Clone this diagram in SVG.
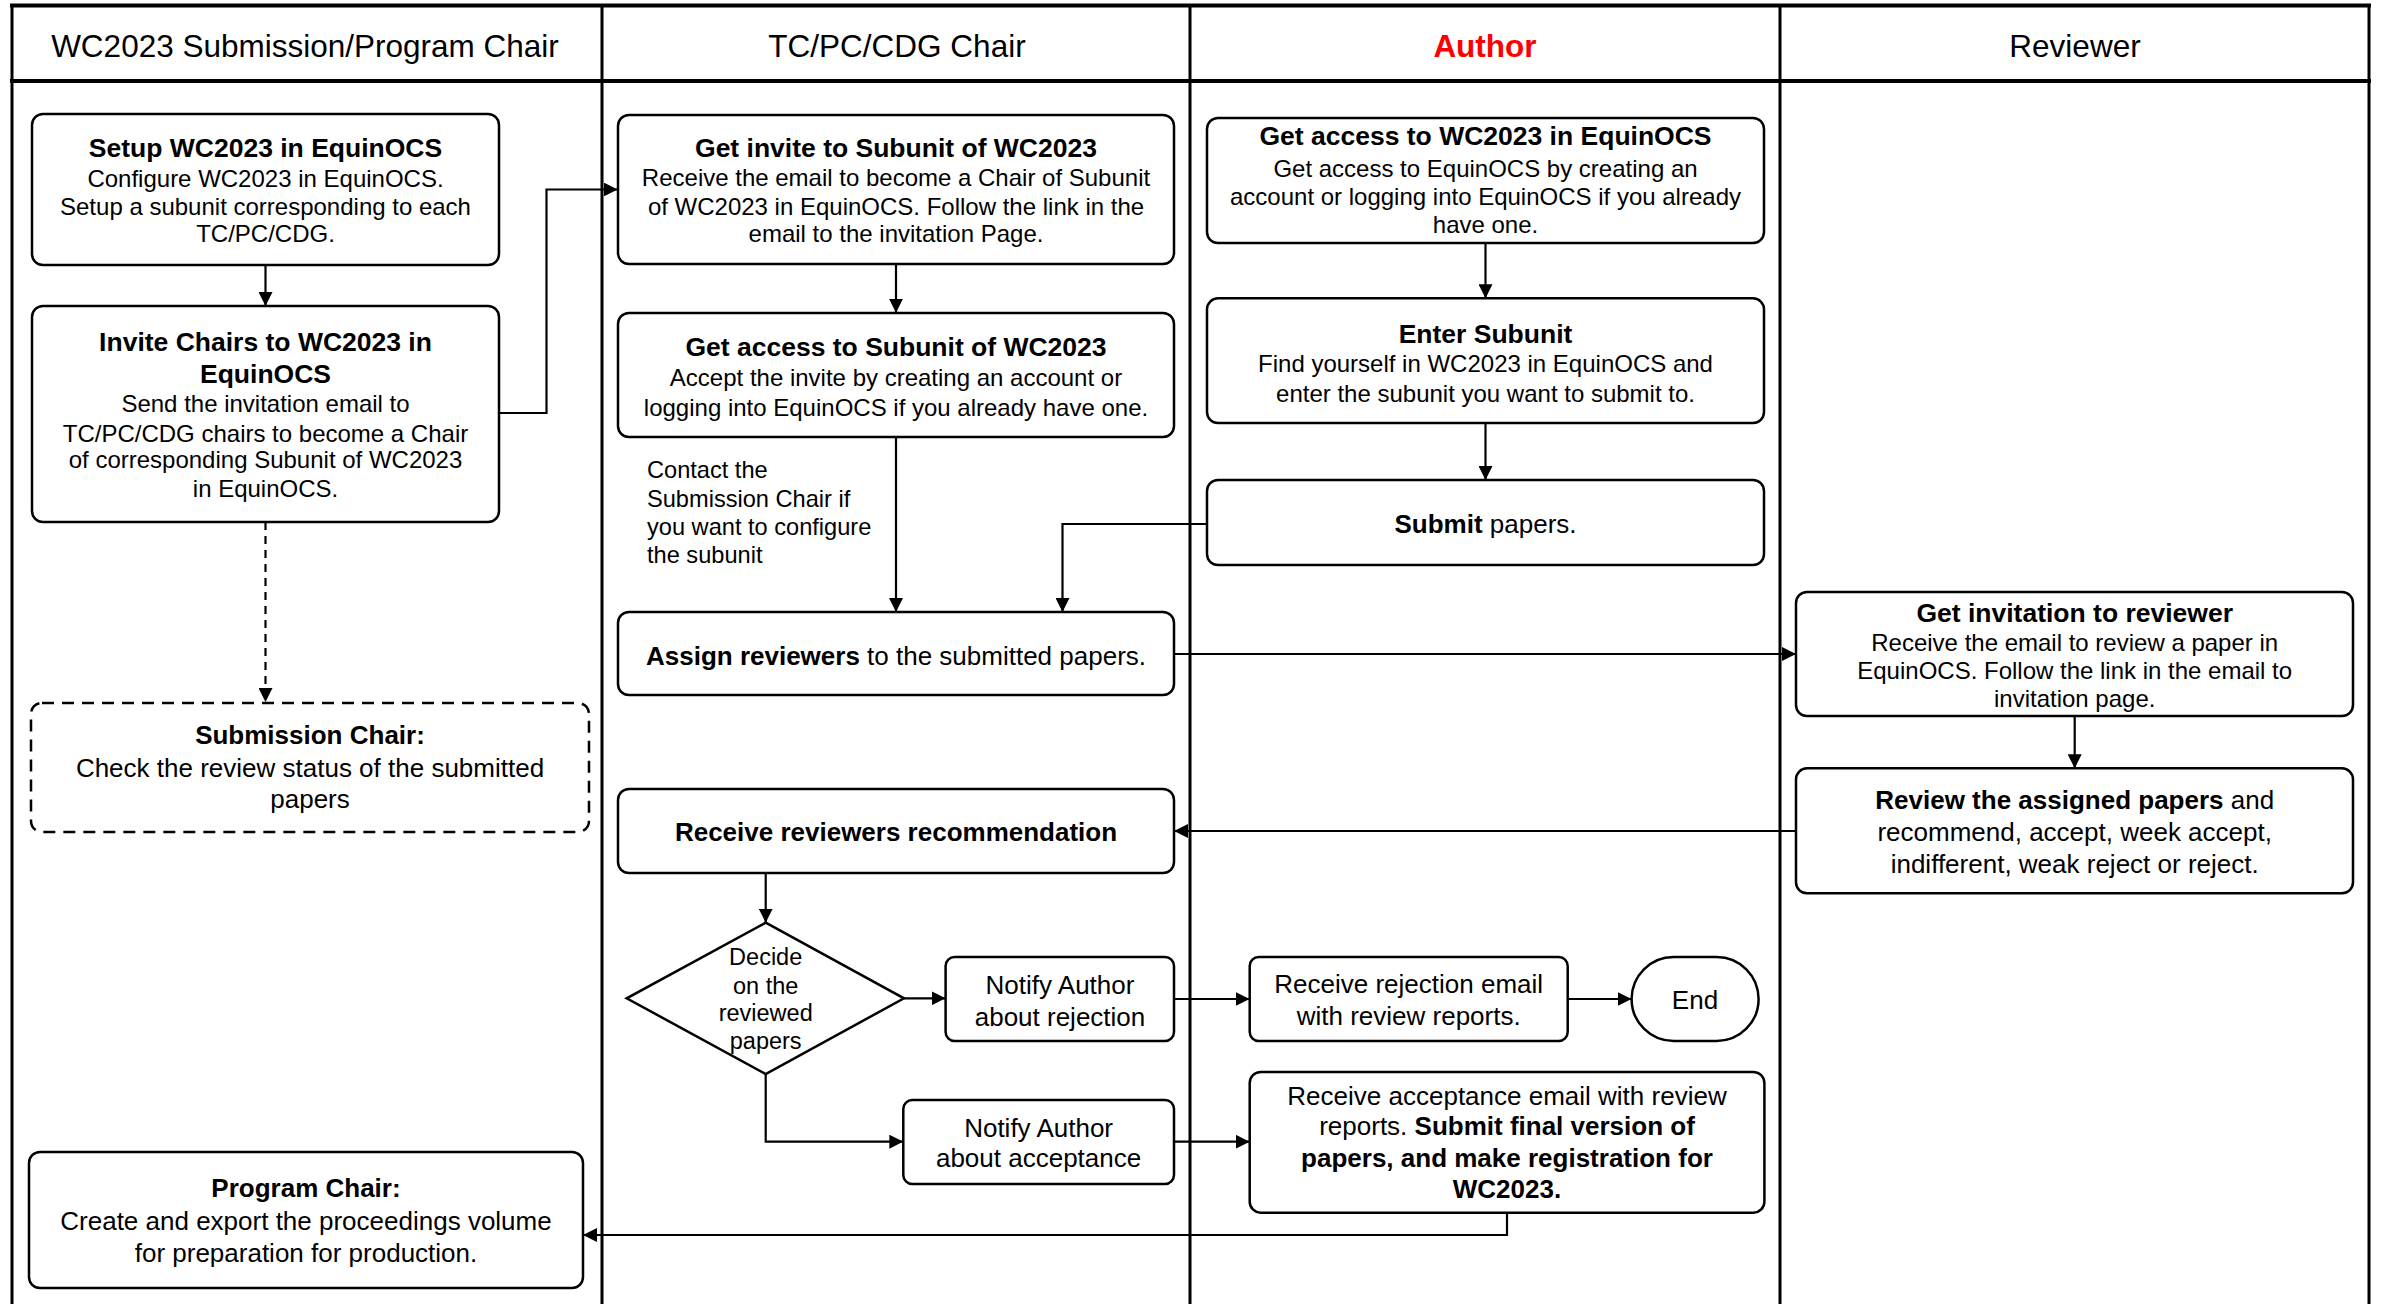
<svg xmlns="http://www.w3.org/2000/svg" width="2384" height="1304" viewBox="0 0 2384 1304">
<style>
text{font-family:"Liberation Sans",Arial,sans-serif;fill:#000}
.h{font-size:31.5px;text-anchor:middle}
.t{font-size:26.5px;font-weight:bold;text-anchor:middle}
.b{font-size:24px;text-anchor:middle}
.m{font-size:26px;text-anchor:middle}
.bd{font-weight:bold}
.box{fill:#fff;stroke:#000;stroke-width:2.5}
.dash{fill:#fff;stroke:#000;stroke-width:2.5;stroke-dasharray:12 8}
.lane{stroke:#000;stroke-width:3;fill:none}
.edge{fill:none;stroke:#000;stroke-width:2.2}
.n{font-size:23.6px}
.d{font-size:23.5px;text-anchor:middle}
</style>
<defs>
<marker id="ah" markerUnits="userSpaceOnUse" markerWidth="14" markerHeight="14" refX="14" refY="7" orient="auto" viewBox="0 0 14 14">
<path d="M0,0 L14,7 L0,14 z" fill="#000"/>
</marker>
</defs>
<rect width="2384" height="1304" fill="#fff"/>
<g id="lanes">
<line class="lane" x1="12" y1="4" x2="12" y2="1304"/>
<line class="lane" x1="602" y1="4" x2="602" y2="1304"/>
<line class="lane" x1="1190" y1="4" x2="1190" y2="1304"/>
<line class="lane" x1="1780" y1="4" x2="1780" y2="1304"/>
<line class="lane" x1="2369" y1="4" x2="2369" y2="1304"/>
<line class="lane" x1="10" y1="5.5" x2="2371" y2="5.5" style="stroke-width:4"/>
<line class="lane" x1="10" y1="81" x2="2371" y2="81" style="stroke-width:4"/>
<text class="h" x="305" y="57">WC2023 Submission/Program Chair</text>
<text class="h" x="897" y="57">TC/PC/CDG Chair</text>
<text class="h" x="1485" y="57" style="fill:#ff0000;font-weight:bold">Author</text>
<text class="h" x="2075" y="57">Reviewer</text>
</g>
<g id="connectors">
<path class="edge" d="M265.5,265 V306" marker-end="url(#ah)"/>
<path class="edge" d="M499,413 H546.5 V189.5 H617.7" marker-end="url(#ah)"/>
<path class="edge" d="M265.5,522 V702" style="stroke-dasharray:8 6" marker-end="url(#ah)"/>
<path class="edge" d="M896,264 V312.7" marker-end="url(#ah)"/>
<path class="edge" d="M896,437 V612" marker-end="url(#ah)"/>
<path class="edge" d="M1207,524 H1062.5 V612" marker-end="url(#ah)"/>
<path class="edge" d="M1485.5,243 V298.3" marker-end="url(#ah)"/>
<path class="edge" d="M1485.5,423 V480" marker-end="url(#ah)"/>
<path class="edge" d="M1174,654 H1796" marker-end="url(#ah)"/>
<path class="edge" d="M2074.7,716 V768.3" marker-end="url(#ah)"/>
<path class="edge" d="M1796,831 H1174" marker-end="url(#ah)"/>
<path class="edge" d="M765.7,873 V922.7" marker-end="url(#ah)"/>
<path class="edge" d="M904,998.3 H945.6" marker-end="url(#ah)"/>
<path class="edge" d="M765.7,1074 V1141.7 H903.3" marker-end="url(#ah)"/>
<path class="edge" d="M1174,999 H1249.7" marker-end="url(#ah)"/>
<path class="edge" d="M1174,1141.7 H1249.7" marker-end="url(#ah)"/>
<path class="edge" d="M1567.7,999 H1631.6" marker-end="url(#ah)"/>
<path class="edge" d="M1507,1212.7 V1235 H583" marker-end="url(#ah)"/>
</g>
<g id="setup">
<rect class="box" x="32" y="114" width="467" height="151" rx="11"/>
<text class="t" x="265.5" y="157">Setup WC2023 in EquinOCS</text>
<text class="b" x="265.5" y="187">Configure WC2023 in EquinOCS.</text>
<text class="b" x="265.5" y="215">Setup a subunit corresponding to each</text>
<text class="b" x="265.5" y="242">TC/PC/CDG.</text>
</g>
<g id="invite-chairs">
<rect class="box" x="32" y="306" width="467" height="216" rx="11"/>
<text class="t" x="265.5" y="351">Invite Chairs to WC2023 in</text>
<text class="t" x="265.5" y="383">EquinOCS</text>
<text class="b" x="265.5" y="412">Send the invitation email to</text>
<text class="b" x="265.5" y="442">TC/PC/CDG chairs to become a Chair</text>
<text class="b" x="265.5" y="468">of corresponding Subunit of WC2023</text>
<text class="b" x="265.5" y="497">in EquinOCS.</text>
</g>
<g id="submission-chair">
<rect class="dash" x="31" y="703" width="558" height="129" rx="11"/>
<text class="m bd" x="310" y="744">Submission Chair:</text>
<text class="m" x="310" y="777">Check the review status of the submitted</text>
<text class="m" x="310" y="808">papers</text>
</g>
<g id="program-chair">
<rect class="box" x="29" y="1152" width="554" height="136" rx="11"/>
<text class="m bd" x="306" y="1197">Program Chair:</text>
<text class="m" x="306" y="1230">Create and export the proceedings volume</text>
<text class="m" x="306" y="1262">for preparation for production.</text>
</g>
<g id="get-invite">
<rect class="box" x="618" y="115" width="556" height="149" rx="11"/>
<text class="t" x="896" y="156.5">Get invite to Subunit of WC2023</text>
<text class="b" x="896" y="186">Receive the email to become a Chair of Subunit</text>
<text class="b" x="896" y="215">of WC2023 in EquinOCS. Follow the link in the</text>
<text class="b" x="896" y="242">email to the invitation Page.</text>
</g>
<g id="get-access-subunit">
<rect class="box" x="618" y="313" width="556" height="124" rx="11"/>
<text class="t" x="896" y="356">Get access to Subunit of WC2023</text>
<text class="b" x="896" y="385.5">Accept the invite by creating an account or</text>
<text class="b" x="896" y="415.5">logging into EquinOCS if you already have one.</text>
</g>
<g id="contact-note">
<text class="n" x="647" y="477.6">Contact the</text>
<text class="n" x="647" y="507.3">Submission Chair if</text>
<text class="n" x="647" y="535">you want to configure</text>
<text class="n" x="647" y="562.6">the subunit</text>
</g>
<g id="assign">
<rect class="box" x="618" y="612" width="556" height="83" rx="11"/>
<text class="m" x="896" y="665"><tspan class="bd">Assign reviewers</tspan> to the submitted papers.</text>
</g>
<g id="recommendation">
<rect class="box" x="618" y="789" width="556" height="84" rx="11"/>
<text class="m bd" x="896" y="841">Receive reviewers recommendation</text>
</g>
<g id="decide">
<polygon class="box" points="765.7,922.7 904,998.3 765.7,1074 626.7,998.3"/>
<text class="d" x="765.7" y="965">Decide</text>
<text class="d" x="765.7" y="994">on the</text>
<text class="d" x="765.7" y="1021">reviewed</text>
<text class="d" x="765.7" y="1049">papers</text>
</g>
<g id="notify-rejection">
<rect class="box" x="945.6" y="957" width="228.4" height="84" rx="9"/>
<text class="m" x="1060" y="994">Notify Author</text>
<text class="m" x="1060" y="1026">about rejection</text>
</g>
<g id="notify-acceptance">
<rect class="box" x="903.3" y="1100" width="270.7" height="84" rx="9"/>
<text class="m" x="1038.6" y="1137">Notify Author</text>
<text class="m" x="1038.6" y="1167">about acceptance</text>
</g>
<g id="get-access-wc2023">
<rect class="box" x="1207" y="118" width="557" height="125" rx="11"/>
<text class="t" x="1485.5" y="145">Get access to WC2023 in EquinOCS</text>
<text class="b" x="1485.5" y="176.7">Get access to EquinOCS by creating an</text>
<text class="b" x="1485.5" y="205">account or logging into EquinOCS if you already</text>
<text class="b" x="1485.5" y="232.7">have one.</text>
</g>
<g id="enter-subunit">
<rect class="box" x="1207" y="298.3" width="557" height="124.7" rx="11"/>
<text class="t" x="1485.5" y="342.7">Enter Subunit</text>
<text class="b" x="1485.5" y="371.7">Find yourself in WC2023 in EquinOCS and</text>
<text class="b" x="1485.5" y="401.7">enter the subunit you want to submit to.</text>
</g>
<g id="submit-papers">
<rect class="box" x="1207" y="480" width="557" height="85" rx="11"/>
<text class="m" x="1485.5" y="533"><tspan class="bd">Submit</tspan> papers.</text>
</g>
<g id="rejection-email">
<rect class="box" x="1249.7" y="957" width="318" height="84" rx="9"/>
<text class="m" x="1408.7" y="993">Receive rejection email</text>
<text class="m" x="1408.7" y="1025">with review reports.</text>
</g>
<g id="end">
<rect class="box" x="1631.6" y="957" width="127" height="84" rx="42"/>
<text class="m" x="1695" y="1009">End</text>
</g>
<g id="acceptance-email">
<rect class="box" x="1249.7" y="1072" width="514.7" height="140.7" rx="11"/>
<text class="m" x="1507" y="1105">Receive acceptance email with review</text>
<text class="m" x="1507" y="1135">reports. <tspan class="bd">Submit final version of</tspan></text>
<text class="m bd" x="1507" y="1167">papers, and make registration for</text>
<text class="m bd" x="1507" y="1198">WC2023.</text>
</g>
<g id="reviewer-invitation">
<rect class="box" x="1796" y="592" width="557" height="124" rx="11"/>
<text class="t" x="2074.7" y="621.7">Get invitation to reviewer</text>
<text class="b" x="2074.7" y="650.7">Receive the email to review a paper in</text>
<text class="b" x="2074.7" y="679.3">EquinOCS. Follow the link in the email to</text>
<text class="b" x="2074.7" y="706.7">invitation page.</text>
</g>
<g id="review-papers">
<rect class="box" x="1796" y="768.3" width="557" height="125" rx="11"/>
<text class="m" x="2074.7" y="809"><tspan class="bd">Review the assigned papers</tspan> and</text>
<text class="m" x="2074.7" y="841">recommend, accept, week accept,</text>
<text class="m" x="2074.7" y="873">indifferent, weak reject or reject.</text>
</g>
</svg>
